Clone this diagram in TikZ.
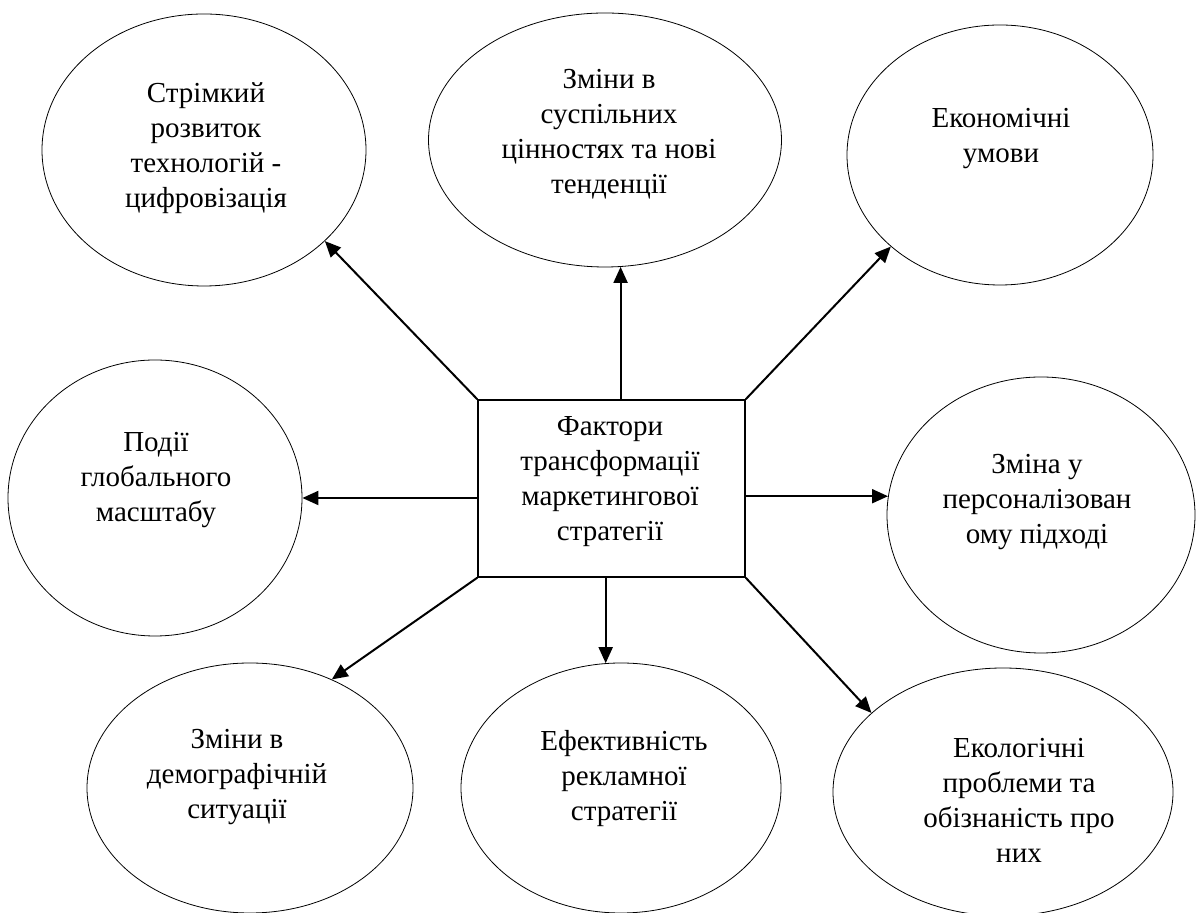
\documentclass[tikz,border=0pt]{standalone}
\usepackage{fontspec}
\setmainfont{Liberation Serif}
\usetikzlibrary{shapes.geometric,arrows.meta}
\begin{document}
\begin{tikzpicture}[x=1pt,y=1pt,
  bubble/.style={draw, ellipse, line width=0.8pt, inner sep=0pt},
  caption/.style={align=center, font=\fontsize{29}{35}\selectfont, inner sep=0pt},
  hub/.style={draw, line width=1.5pt, minimum width=267pt, minimum height=177pt, inner sep=0pt},
  link/.style={line width=2pt, -{Triangle[length=16pt,width=14pt]}}
]
\useasboundingbox (0,0) rectangle (1200,913);

% central factor box
\node[hub] (r) at (611.5,424.5) {};
\node[caption] (tr) at (610,431) {Фактори\\трансформації\\маркетингової\\стратегії};

% surrounding factors
\node[bubble, minimum width=324pt, minimum height=272pt] (e1) at (204,763) {};
\node[caption] (t1) at (206,765) {Стрімкий\\розвиток\\технологій -\\цифровізація};

\node[bubble, minimum width=353pt, minimum height=254pt] (e2) at (605,773) {};
\node[caption] (t2) at (609,779) {Зміни в\\суспільних\\цінностях та нові\\тенденції};

\node[bubble, minimum width=306pt, minimum height=260pt] (e3) at (1000,758) {};
\node[caption] (t3) at (1001,774) {Економічні\\умови};

\node[bubble, minimum width=294pt, minimum height=276pt] (e4) at (155,415) {};
\node[caption] (t4) at (156,433) {Події\\глобального\\масштабу};

\node[bubble, minimum width=308pt, minimum height=276pt] (e5) at (1041,398) {};
\node[caption] (t5) at (1037,411) {Зміна у\\персоналізован\\ому підході};

\node[bubble, minimum width=326pt, minimum height=250pt] (e6) at (250,125) {};
\node[caption] (t6) at (237,136) {Зміни в\\демографічній\\ситуації};

\node[bubble, minimum width=320pt, minimum height=250pt] (e7) at (621,125) {};
\node[caption] (t7) at (624,134) {Ефективність\\рекламної\\стратегії};

\node[bubble, minimum width=340pt, minimum height=248pt] (e8) at (1003,121) {};
\node[caption] (t8) at (1019,113) {Екологічні\\проблеми та\\обізнаність про\\них};

% arrows from the box to each factor
\draw[link] (r.north west) -- (e1.-37);
\draw[link] (e2.-83 |- r.north) -- (e2.-83);
\draw[link] (r.north east) -- (e3.220);
\draw[link] (e4.east -| r.west) -- (e4.east);
\draw[link] (e5.173 -| r.east) -- (e5.173);
\draw[link] (r.south west) -- (e6.53);
\draw[link] (e7.97 |- r.south) -- (e7.97);
\draw[link] (r.south east) -- (e8.149);
\end{tikzpicture}
\end{document}
